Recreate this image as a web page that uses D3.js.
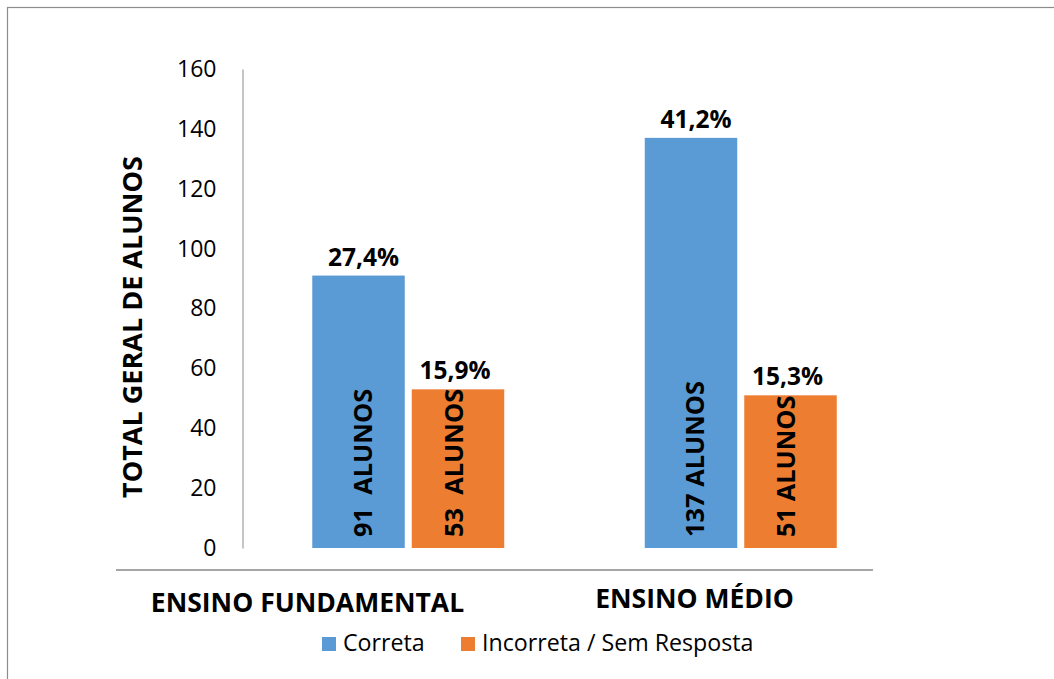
<!DOCTYPE html>
<html>
<head>
<meta charset="utf-8">
<script src="https://cdn.jsdelivr.net/npm/d3@7"></script>
<style>
  html, body { margin: 0; padding: 0; background: #fff; }
  svg { display: block; font-family: "Open Sans", sans-serif; }
</style>
</head>
<body>
<svg id="chart" width="1054" height="679"></svg>
<script>
// Students per level of schooling, split by answer type
const categories = ["ENSINO FUNDAMENTAL", "ENSINO MÉDIO"];
const seriesNames = ["Correta", "Incorreta / Sem Resposta"];
const correta = [91, 137];
const incorreta = [53, 51];
const pctCorreta = ["27,4%", "41,2%"];
const pctIncorreta = ["15,9%", "15,3%"];
const barNames = [["91  ALUNOS", "137 ALUNOS"], ["53  ALUNOS", "51 ALUNOS"]];
const yTicks = [0, 20, 40, 60, 80, 100, 120, 140, 160];
const colors = ["#5B9BD5", "#ED7D31"];

const svg = d3.select("#chart");

// outer frame
svg.append("rect")
  .attr("x", 7.5).attr("y", 7.5)
  .attr("width", 1060).attr("height", 690)
  .attr("fill", "none").attr("stroke", "#8c8c8c").attr("stroke-width", 1.2);

const y = d3.scaleLinear().domain([0, 160]).range([548, 69]);
const x0 = d3.scaleBand().domain(categories).range([242, 907])
  .paddingInner(0.4226).paddingOuter(0.2113);
const x1 = d3.scaleBand().domain(seriesNames).range([0, x0.bandwidth()])
  .paddingInner(0.0704);

// y axis (line + labels, no tick marks)
const yAxis = d3.axisLeft(y).tickValues(yTicks).tickSize(0).tickPadding(26);
const gy = svg.append("g").attr("transform", "translate(242.5,0)").call(yAxis);
gy.select(".domain").attr("stroke", "#a6a6a6").attr("stroke-width", 1.3);
gy.selectAll("text")
  .attr("font-family", "'Open Sans', sans-serif")
  .attr("font-size", 23).attr("fill", "#000");

// horizontal rule below the plot
svg.append("line")
  .attr("x1", 116).attr("x2", 873)
  .attr("y1", 570).attr("y2", 570)
  .attr("stroke", "#a6a6a6").attr("stroke-width", 2);

// y title
svg.append("text")
  .attr("transform", "translate(131,327) rotate(-90)")
  .attr("text-anchor", "middle")
  .attr("dominant-baseline", "central")
  .attr("font-weight", "bold").attr("font-size", 27)
  .text("TOTAL GERAL DE ALUNOS");

// bars
const rows = categories.map((c, i) => ({
  cat: c,
  vals: [
    { s: seriesNames[0], v: correta[i], pct: pctCorreta[i], name: barNames[0][i], k: 0 },
    { s: seriesNames[1], v: incorreta[i], pct: pctIncorreta[i], name: barNames[1][i], k: 1 }
  ]
}));

const groups = svg.selectAll("g.grp").data(rows).join("g")
  .attr("class", "grp")
  .attr("transform", d => "translate(" + x0(d.cat) + ",0)");

groups.selectAll("rect").data(d => d.vals).join("rect")
  .attr("x", d => x1(d.s))
  .attr("y", d => y(d.v))
  .attr("width", x1.bandwidth())
  .attr("height", d => y(0) - y(d.v))
  .attr("fill", d => colors[d.k]);

// percentage labels above bars
groups.selectAll("text.pct").data(d => d.vals).join("text")
  .attr("class", "pct")
  .attr("x", d => x1(d.s) + x1.bandwidth() / 2 + (d.k === 0 ? 5 : -3))
  .attr("y", d => y(d.v) - 10)
  .attr("text-anchor", "middle")
  .attr("font-weight", "bold").attr("font-size", 24.5)
  .text(d => d.pct);

// student counts written inside the bars
groups.selectAll("text.cnt").data(d => d.vals).join("text")
  .attr("class", "cnt")
  .attr("transform", d => {
    const cx = x1(d.s) + x1.bandwidth() / 2 + (d.k === 0 ? 3 : -5);
    return "translate(" + cx + ",537) rotate(-90)";
  })
  .attr("dominant-baseline", "central")
  .attr("text-anchor", "start")
  .attr("font-weight", "bold").attr("font-size", 25.4)
  .attr("xml:space", "preserve")
  .style("white-space", "pre")
  .text(d => d.name);

// category labels
const catLabelX = [307.5, 694.5];
svg.selectAll("text.cat").data(categories).join("text")
  .attr("class", "cat")
  .attr("x", (d, i) => catLabelX[i])
  .attr("y", (d, i) => i === 0 ? 612 : 608)
  .attr("text-anchor", "middle")
  .attr("font-weight", "bold").attr("font-size", 26.5)
  .text(d => d);

// legend
const legendX = [322, 461];
const leg = svg.selectAll("g.leg").data(seriesNames).join("g")
  .attr("class", "leg")
  .attr("transform", (d, i) => "translate(" + legendX[i] + ",637)");
leg.append("rect").attr("width", 14).attr("height", 14)
  .attr("fill", (d, i) => colors[i]);
leg.append("text").attr("x", 21).attr("y", 14)
  .attr("font-size", 23.2)
  .text(d => d);
</script>
</body>
</html>
